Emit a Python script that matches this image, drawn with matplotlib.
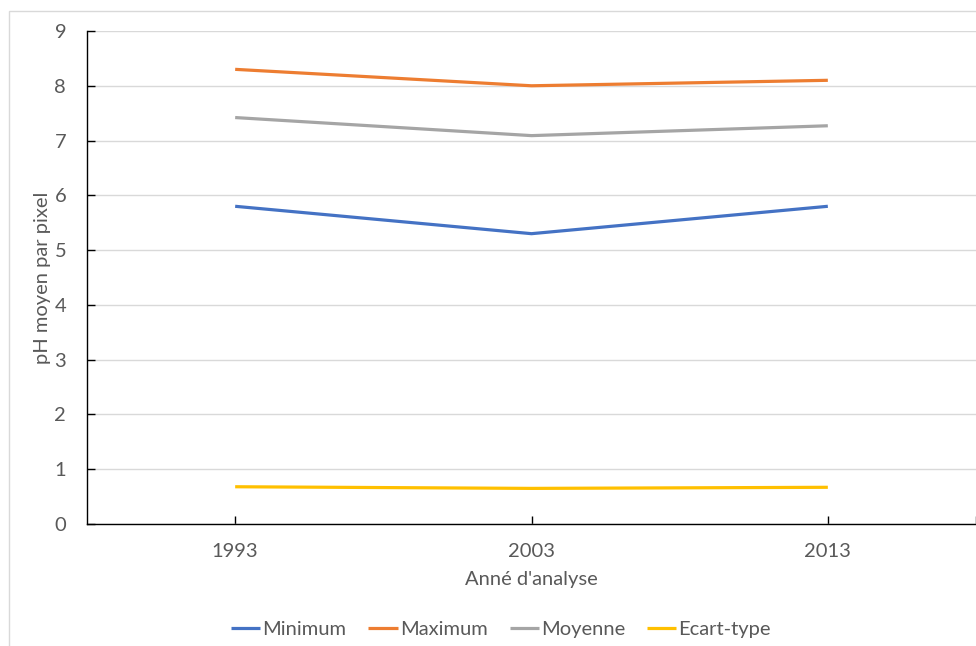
import matplotlib.pyplot as plt
from matplotlib.patches import Rectangle

plt.rcParams['font.family'] = ['Lato', 'DejaVu Sans']

years = ['1993', '2003', '2013']
minimum = [5.8, 5.3, 5.8]
maximum = [8.3, 8.0, 8.1]
moyenne = [7.42, 7.09, 7.27]
ecart_type = [0.68, 0.65, 0.67]

text_col = '#595959'
fs = 14.5

fig = plt.figure(figsize=(9.76, 6.46), dpi=100)
ax = fig.add_axes([87 / 976, 1 - 524 / 646, 889 / 976, 493 / 646])

# light chart border like the Excel frame
fig.patches.append(Rectangle((9 / 976, -0.1), 1.2, 1 - 11 / 646 + 0.1,
                             transform=fig.transFigure, fill=False,
                             edgecolor='#d9d9d9', lw=1))

x = range(len(years))
ax.plot(x, minimum, color='#4472C4', lw=2.3, label='Minimum', solid_capstyle='butt')
ax.plot(x, maximum, color='#ED7D31', lw=2.3, label='Maximum', solid_capstyle='butt')
ax.plot(x, moyenne, color='#A5A5A5', lw=2.3, label='Moyenne', solid_capstyle='butt')
ax.plot(x, ecart_type, color='#FFC000', lw=2.3, label='Ecart-type', solid_capstyle='butt')

ax.set_xlim(-0.5, 2.5)
ax.set_ylim(0, 9)
ax.set_xticks([0, 1, 2, 2.5])
ax.set_xticklabels(years + [''])
ax.set_yticks(range(10))
ax.grid(axis='y', color='#d9d9d9', lw=1)
ax.set_axisbelow(True)

for s in ['top', 'right']:
    ax.spines[s].set_visible(False)
for s in ['left', 'bottom']:
    ax.spines[s].set_color('black')
    ax.spines[s].set_linewidth(1)

ax.tick_params(direction='in', length=6, width=1, colors='black',
               labelcolor=text_col, labelsize=fs)
ax.tick_params(axis='y', pad=15)
ax.tick_params(axis='x', pad=14)

ax.set_xlabel("Anné d'analyse", color=text_col, fontsize=fs)
ax.set_ylabel('pH moyen par pixel', color=text_col, fontsize=fs)
ax.xaxis.set_label_coords(0.5, -(571 - 524) / 493)
ax.yaxis.set_label_coords(-(87 - 51) / 889, 0.5)

leg = ax.legend(loc='center', bbox_to_anchor=(501 / 976, 17 / 646),
                bbox_transform=fig.transFigure, ncol=4, frameon=False,
                fontsize=fs, handlelength=1.45, handletextpad=0.1,
                columnspacing=1.1)
for t in leg.get_texts():
    t.set_color(text_col)

fig.savefig('out.png', dpi=100)
